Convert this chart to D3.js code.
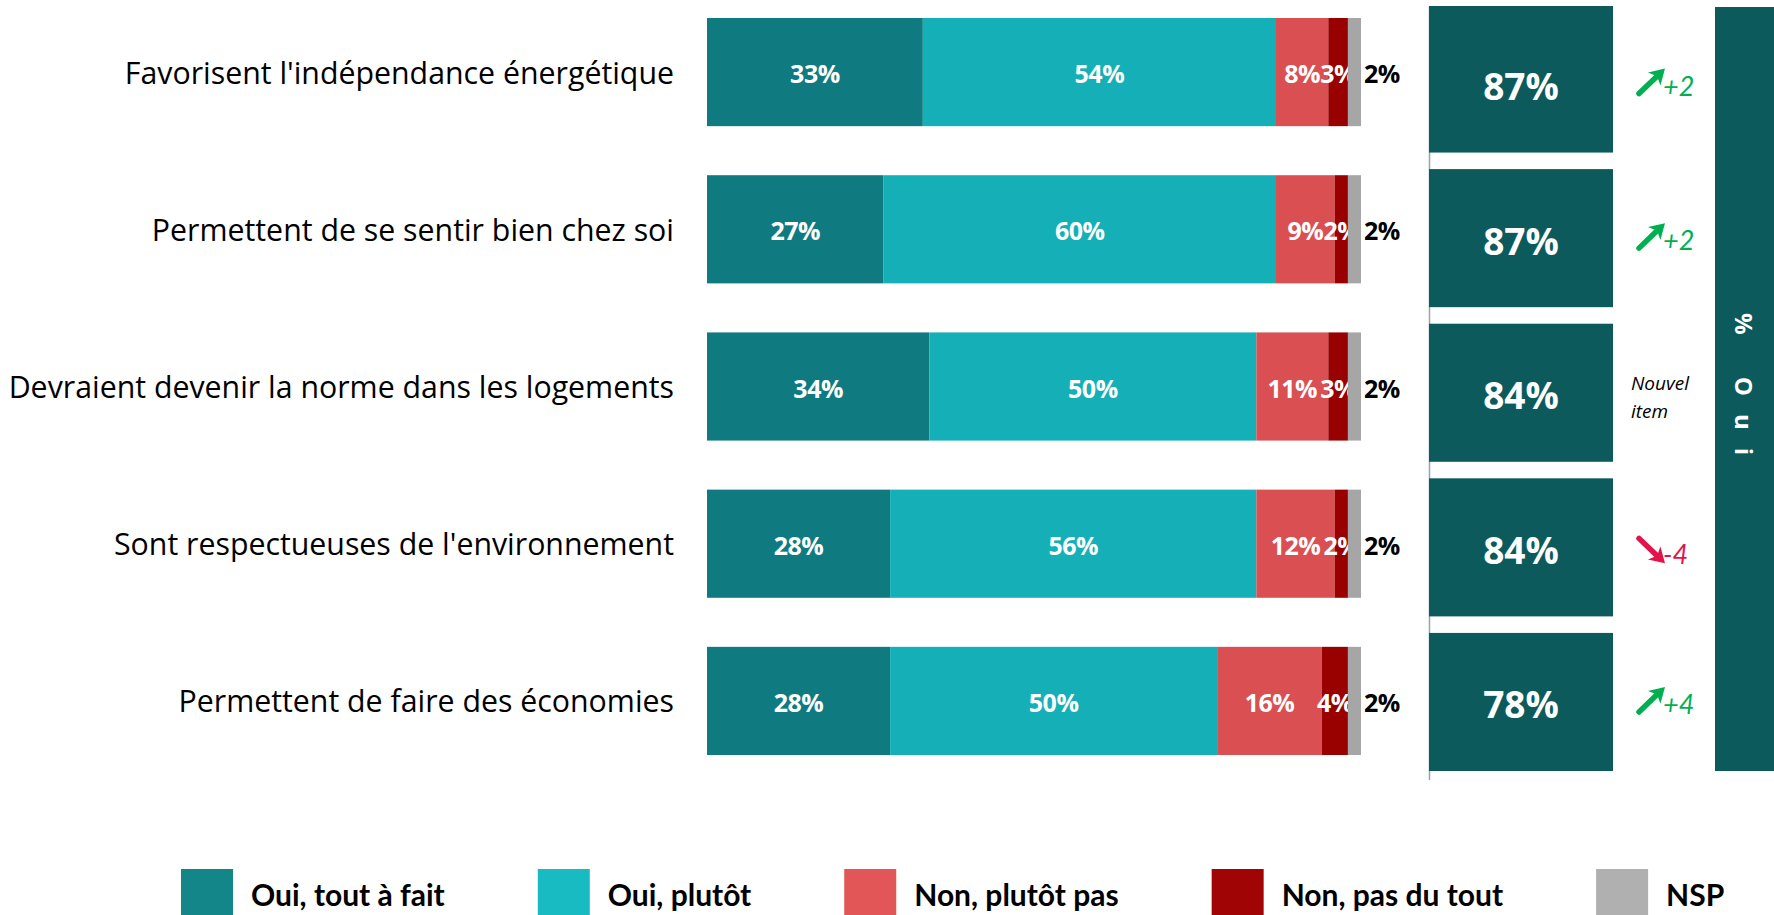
<!DOCTYPE html>
<html>
<head>
<meta charset="utf-8">
<script src="https://cdn.jsdelivr.net/npm/d3@7"></script>
<style>
  html, body { margin: 0; padding: 0; background: #fff; overflow: hidden; }
</style>
</head>
<body>
<svg id="chart" width="1774" height="915"></svg>
<script>
const categories = [
  "Favorisent l'indépendance énergétique",
  'Permettent de se sentir bien chez soi',
  'Devraient devenir la norme dans les logements',
  "Sont respectueuses de l'environnement",
  'Permettent de faire des économies',
];
const seriesNames = ['Oui, tout à fait', 'Oui, plutôt', 'Non, plutôt pas', 'Non, pas du tout', 'NSP'];
const toutAFait = [33, 27, 34, 28, 28];
const plutot = [54, 60, 50, 56, 50];
const plutotPas = [8, 9, 11, 12, 16];
const pasDuTout = [3, 2, 3, 2, 4];
const nsp = [2, 2, 2, 2, 2];
const totalOui = [87, 87, 84, 84, 78];
const evolution = [2, 2, null, -4, 4];

const colors = ['#0f7a80', '#14afb7', '#d94f52', '#990000', '#a6a6a6'];
const legendColors = ['#13868a', '#19bbc3', '#e35657', '#a00404', '#b0b0b0'];
const boxColor = '#0d5a5c';
const up = '#00b050';
const down = '#e3124b';

const table = categories.map((c, i) => ({
  cat: c,
  [seriesNames[0]]: toutAFait[i],
  [seriesNames[1]]: plutot[i],
  [seriesNames[2]]: plutotPas[i],
  [seriesNames[3]]: pasDuTout[i],
  [seriesNames[4]]: nsp[i],
}));
const stacked = d3.stack().keys(seriesNames)(table);

const svg = d3.select('#chart');
const x = d3.scaleLinear().domain([0, 100]).range([707, 1361]);
const y = d3.scaleBand().domain(categories).range([18, 755]).paddingInner(0.312);
const yBox = d3.scaleBand().domain(categories).range([14.5, 771]).paddingInner(0.107);

// category labels
svg.append('g').selectAll('text')
  .data(categories).enter().append('text')
  .attr('x', x(0) - 33)
  .attr('y', d => y(d) + y.bandwidth() / 2)
  .attr('text-anchor', 'end')
  .attr('dominant-baseline', 'central')
  .style('font-family', 'Open Sans')
  .style('font-size', '30.3px')
  .style('fill', '#000')
  .text(d => d);

// stacked bars
const layers = svg.append('g').selectAll('g')
  .data(stacked).enter().append('g')
  .style('fill', (d, i) => colors[i]);

layers.selectAll('rect')
  .data(d => d).enter().append('rect')
  .attr('x', d => x(d[0]))
  .attr('width', d => x(d[1]) - x(d[0]))
  .attr('y', d => y(d.data.cat))
  .attr('height', y.bandwidth());

layers.selectAll('text')
  .data((d, i) => d.map(v => ({ v, i, key: d.key }))).enter().append('text')
  .attr('x', d => (d.i === 4 ? x(100) + 21 : x((d.v[0] + d.v[1]) / 2)))
  .attr('y', d => y(d.v.data.cat) + y.bandwidth() / 2 + 1)
  .attr('text-anchor', 'middle')
  .attr('dominant-baseline', 'central')
  .style('font-family', 'Open Sans')
  .style('font-weight', '700')
  .style('font-size', '25px')
  .style('letter-spacing', '-0.5px')
  .style('fill', d => (d.i === 4 ? '#000' : '#fff'))
  .text(d => `${d.v.data[d.key]}%`);

// total boxes
svg.append('line')
  .attr('x1', 1429.5).attr('x2', 1429.5)
  .attr('y1', 6).attr('y2', 780)
  .style('stroke', '#8fa9aa')
  .style('stroke-width', 1.5);

svg.append('g').selectAll('rect')
  .data(categories).enter().append('rect')
  .attr('x', 1429)
  .attr('width', 184)
  .attr('y', (d, i) => (i === 0 ? 6 : yBox(d)))
  .attr('height', (d, i) => (i === 0 ? yBox(d) + yBox.bandwidth() - 6 : yBox.bandwidth()))
  .style('fill', boxColor);

svg.append('g').selectAll('text')
  .data(categories).enter().append('text')
  .attr('x', 1521)
  .attr('y', d => yBox(d) + yBox.bandwidth() / 2 + 2)
  .attr('text-anchor', 'middle')
  .attr('dominant-baseline', 'central')
  .style('font-family', 'Open Sans')
  .style('font-weight', '700')
  .style('font-size', '37px')
  .style('fill', '#fff')
  .text((d, i) => `${totalOui[i]}%`);

// evolution
const evo = svg.append('g');
categories.forEach((c, i) => {
  const cy = yBox(c) + yBox.bandwidth() / 2;
  const v = evolution[i];
  if (v === null) {
    evo.append('text')
      .attr('x', 1631).attr('y', cy - 3)
      .style('font-family', 'Open Sans').style('font-style', 'italic').style('font-size', '19px')
      .text('Nouvel');
    evo.append('text')
      .attr('x', 1631).attr('y', cy + 25)
      .style('font-family', 'Open Sans').style('font-style', 'italic').style('font-size', '19px')
      .text('item');
    return;
  }
  const col = v > 0 ? up : down;
  const x0 = 1639;
  const x1 = 1665;
  const y0 = v > 0 ? cy + 10 : cy - 9;
  const y1 = v > 0 ? cy - 15 : cy + 16;
  const len = Math.hypot(x1 - x0, y1 - y0);
  const ux = (x1 - x0) / len;
  const uy = (y1 - y0) / len;
  const bx = x1 - ux * 15;
  const by = y1 - uy * 15;
  evo.append('line')
    .attr('x1', x0).attr('y1', y0)
    .attr('x2', bx + ux * 4).attr('y2', by + uy * 4)
    .style('stroke', col).style('stroke-width', 5.5).style('stroke-linecap', 'round');
  evo.append('path')
    .attr('d', `M${x1},${y1}L${bx - uy * 9},${by + ux * 9}L${bx + ux * 4},${by + uy * 4}L${bx + uy * 9},${by - ux * 9}Z`)
    .style('fill', col);
  evo.append('text')
    .attr('x', 1663)
    .attr('y', v > 0 ? cy + 12 : cy + 17)
    .style('font-family', 'Lato').style('font-style', 'italic').style('font-size', '27px')
    .style('fill', col)
    .text(v > 0 ? `+${v}` : `${v}`);
});

// right "% Oui" band
svg.append('rect')
  .attr('x', 1715).attr('y', 7)
  .attr('width', 59).attr('height', 764)
  .style('fill', boxColor);
svg.append('text')
  .attr('transform', 'translate(1744,393) rotate(90)')
  .attr('text-anchor', 'middle')
  .attr('dominant-baseline', 'central')
  .style('font-family', 'Open Sans')
  .style('font-weight', '700')
  .style('font-size', '24px')
  .style('letter-spacing', '18px')
  .style('fill', '#fff')
  .text('% Oui');

// legend
const legend = svg.append('g');
let lx = 181;
seriesNames.forEach((name, i) => {
  legend.append('rect')
    .attr('x', lx).attr('y', 869)
    .attr('width', 52).attr('height', 52)
    .style('fill', legendColors[i]);
  const t = legend.append('text')
    .attr('x', lx + 70).attr('y', 894)
    .attr('dominant-baseline', 'central')
    .style('font-family', 'Lato')
    .style('font-weight', '700')
    .style('font-size', '30px')
    .text(name);
  lx += 70 + t.node().getComputedTextLength() + 93;
});
</script>
</body>
</html>
